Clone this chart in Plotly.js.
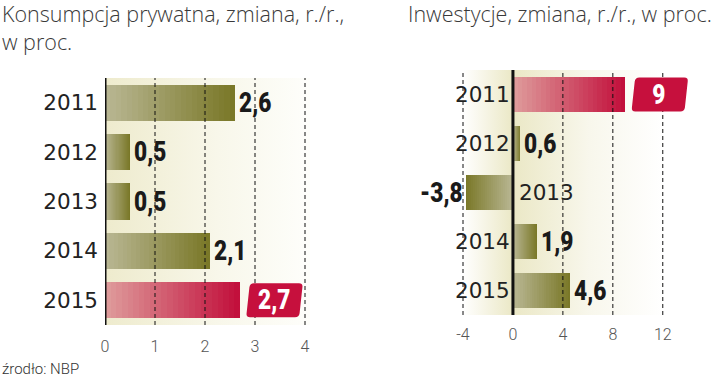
<!DOCTYPE html>
<html>
<head>
<meta charset="utf-8">
<script src="https://cdn.plot.ly/plotly-3.0.1.min.js"></script>
<style>
  html, body { margin: 0; padding: 0; background: #ffffff; }
  #chart { width: 720px; height: 382px; }
</style>
</head>
<body>
<div id="chart"></div>
<script>
// ---- data ----
const years = ['2011', '2012', '2013', '2014', '2015'];
const consumption = [2.6, 0.5, 0.5, 2.1, 2.7];
const investment = [9, 0.6, -3.8, 1.9, 4.6];
const consumptionLabels = ['2,6', '0,5', '0,5', '2,1', '2,7'];
const investmentLabels = ['9', '0,6', '-3,8', '1,9', '4,6'];
const consumptionHighlight = [false, false, false, false, true];
const investmentHighlight = [true, false, false, false, false];
const consumptionTicks = [0, 1, 2, 3, 4];
const investmentTicks = [-4, 0, 4, 8, 12];
const consumptionTitle = 'Konsumpcja prywatna, zmiana, r./r.,<br>w proc.';
const investmentTitle = 'Inwestycje, zmiana, r./r., w proc.';
const sourceText = 'źrodło: NBP';

// ---- style ----
const W = 720, H = 382;
const OLIVE = ['#b8b692', '#7a7828'];
const RED = ['#de9a9a', '#c2103c'];
const BOX_RED = '#c6103d';
const N = 24;
const CONDENSE = 0.84;
const YEAR_FONT = {family: 'DejaVu Sans', size: 21.5, color: '#222222'};
const VAL_FONT = {family: 'Roboto, sans-serif', size: 27, color: '#1a1a1a', weight: 900};
const TICK_FONT = {family: 'Roboto, sans-serif', size: 16, color: '#555555', weight: 300};
const TITLE_FONT = {family: 'Open Sans, sans-serif', size: 21.5, color: '#3a3a3a', weight: 300};

const pos = years.map((y, i) => i);   // row positions of the categories

function hex2rgb(h) { return [1, 3, 5].map(i => parseInt(h.substr(i, 2), 16)); }
function mix(a, b, t) {
  const A = hex2rgb(a), B = hex2rgb(b);
  return 'rgb(' + A.map((v, i) => Math.round(v + (B[i] - v) * t)).join(',') + ')';
}

function gradientBars(values, highlight, xa, ya) {
  const traces = [];
  for (let k = 0; k < N; k++) {
    const t = k / (N - 1);
    traces.push({
      type: 'bar', orientation: 'h',
      y: pos,
      base: values.map(v => v * k / N),
      x: values.map(v => v * (1 - k / N)),
      width: 0.73,
      marker: {color: values.map((v, i) => highlight[i] ? mix(RED[0], RED[1], t) : mix(OLIVE[0], OLIVE[1], t)), line: {width: 0}},
      xaxis: xa, yaxis: ya, hoverinfo: 'skip', showlegend: false
    });
  }
  return traces;
}

const data = [].concat(
  gradientBars(consumption, consumptionHighlight, 'x', 'y'),
  gradientBars(investment, investmentHighlight, 'x2', 'y2')
);

function bgImage(stops, xref, yref) {
  const st = stops.map(s => `<stop offset='${s[0]}' stop-color='${s[1]}'/>`).join('');
  const svg = `<svg xmlns='http://www.w3.org/2000/svg' width='100' height='100' viewBox='0 0 100 100' preserveAspectRatio='none'><defs><linearGradient id='g' x1='0' x2='1' y1='0' y2='0'>${st}</linearGradient></defs><rect width='100' height='100' fill='url(#g)'/></svg>`;
  return {
    source: 'data:image/svg+xml;charset=utf-8,' + encodeURIComponent(svg),
    xref: xref, yref: yref, x: 0, y: 1, sizex: 1, sizey: 1,
    xanchor: 'left', yanchor: 'top', sizing: 'stretch', layer: 'below'
  };
}

const shapes = [];
const annotations = [];
const condensed = [];   // annotation indices drawn in the condensed value style

function gridAndZero(ticks, xa, ya) {
  ticks.forEach(t => {
    shapes.push({
      type: 'line', xref: xa, yref: ya + ' domain', x0: t, x1: t, y0: 0, y1: 1, layer: 'above',
      line: t === 0 ? {color: '#111111', width: 3} : {color: '#111111', width: 1, dash: '4px,3px'}
    });
  });
}
gridAndZero(consumptionTicks, 'x', 'y');
gridAndZero(investmentTicks, 'x2', 'y2');

function boxPath() {
  const h = 17, s = 4, L = 6, R = 59, r = 4;
  return `M ${L + s + r} ${h} L ${R + s - r} ${h} Q ${R + s} ${h} ${R + s - 0.6} ${h - r} ` +
         `L ${R + 0.6} ${-h + r} Q ${R} ${-h} ${R - r} ${-h} L ${L + r} ${-h} ` +
         `Q ${L} ${-h} ${L + 0.6} ${-h + r} L ${L + s - 0.6} ${h - r} Q ${L + s} ${h} ${L + s + r} ${h} Z`;
}

function valueLabels(values, labels, highlight, xa, ya) {
  values.forEach((v, i) => {
    if (highlight[i]) {
      shapes.push({
        type: 'path', xref: xa, yref: ya, xsizemode: 'pixel', ysizemode: 'pixel',
        xanchor: v, yanchor: pos[i], path: boxPath(),
        fillcolor: BOX_RED, line: {width: 0}, layer: 'above'
      });
      condensed.push(annotations.length);
      annotations.push({
        xref: xa, yref: ya, x: v, y: pos[i], text: labels[i], showarrow: false,
        xanchor: 'center', yanchor: 'middle', xshift: 34,
        font: Object.assign({}, VAL_FONT, {color: '#ffffff'})
      });
    } else {
      condensed.push(annotations.length);
      annotations.push({
        xref: xa, yref: ya, x: v, y: pos[i], text: labels[i], showarrow: false,
        xanchor: v >= 0 ? 'left' : 'right', yanchor: 'middle', xshift: v >= 0 ? 2 : -1,
        font: VAL_FONT
      });
    }
  });
}
valueLabels(consumption, consumptionLabels, consumptionHighlight, 'x', 'y');
valueLabels(investment, investmentLabels, investmentHighlight, 'x2', 'y2');

// year labels on the investment chart, on the side opposite to the bar
investment.forEach((v, i) => {
  annotations.push({
    xref: 'x2', yref: 'y2', x: 0, y: pos[i], text: years[i], showarrow: false,
    xanchor: v >= 0 ? 'right' : 'left', yanchor: 'middle', xshift: v >= 0 ? -1 : 4,
    font: YEAR_FONT
  });
});

annotations.push({
  xref: 'paper', yref: 'paper', x: 0, y: 1, xanchor: 'left', yanchor: 'top', yshift: 3,
  text: consumptionTitle, showarrow: false, align: 'left', font: TITLE_FONT
});
annotations.push({
  xref: 'paper', yref: 'paper', x: 406 / W, y: 1, xanchor: 'left', yanchor: 'top', yshift: 3,
  text: investmentTitle, showarrow: false, align: 'left', font: TITLE_FONT
});
annotations.push({
  xref: 'paper', yref: 'paper', x: 0, y: 0, xanchor: 'left', yanchor: 'bottom', yshift: 2,
  text: sourceText, showarrow: false, align: 'left',
  font: {family: 'Roboto, sans-serif', size: 15, color: '#333333', weight: 300}
});

const baseX = {
  showgrid: false, zeroline: false, showline: false, ticks: '', fixedrange: true,
  tickfont: TICK_FONT
};
const baseY = {
  type: 'linear', range: [4.5, -0.5], showgrid: false, zeroline: false, showline: false,
  ticks: '', fixedrange: true, tickvals: pos, ticktext: years
};

const layout = {
  width: W, height: H,
  margin: {l: 0, r: 0, t: 0, b: 0},
  paper_bgcolor: '#ffffff', plot_bgcolor: 'rgba(0,0,0,0)',
  barmode: 'overlay', bargap: 0,
  showlegend: false,
  xaxis: Object.assign({}, baseX, {
    domain: [105 / W, 310 / W], range: [0, 4.1], anchor: 'y', ticklabelstandoff: 10,
    tickvals: consumptionTicks, ticktext: consumptionTicks.map(String)
  }),
  yaxis: Object.assign({}, baseY, {
    domain: [(H - 325) / H, (H - 78) / H], anchor: 'x',
    showticklabels: true, tickfont: YEAR_FONT, ticklabelstandoff: 6
  }),
  xaxis2: Object.assign({}, baseX, {
    domain: [461.75 / W, 694 / W], range: [-4.1, 14.5], anchor: 'y2', ticklabelstandoff: 8,
    tickvals: investmentTicks, ticktext: investmentTicks.map(String)
  }),
  yaxis2: Object.assign({}, baseY, {
    domain: [(H - 315) / H, (H - 70) / H], anchor: 'x2', showticklabels: false
  }),
  images: [
    bgImage([[0, '#eeebcd'], [0.55, '#f8f7ea'], [1, '#fefefb']], 'x domain', 'y domain'),
    bgImage([[0.005, '#ffffff'], [0.22, '#ebe8c6'], [0.55, '#f8f7ec'], [0.87, '#ffffff']], 'x2 domain', 'y2 domain')
  ],
  shapes: shapes,
  annotations: annotations
};

Plotly.newPlot('chart', data, layout, {staticPlot: true, displayModeBar: false}).then(gd => {
  // narrow the value labels horizontally around their anchor edge
  gd.querySelectorAll('g.annotation').forEach(g => {
    const idx = +g.getAttribute('data-index');
    if (condensed.indexOf(idx) < 0) return;
    const txt = g.querySelector('text.annotation-text');
    if (!txt) return;
    const bb = txt.getBBox();
    const xa = annotations[idx].xanchor;
    const ax = xa === 'left' ? bb.x : (xa === 'right' ? bb.x + bb.width : bb.x + bb.width / 2);
    txt.setAttribute('transform', `translate(${ax * (1 - CONDENSE)},0) scale(${CONDENSE},1)`);
  });
});
</script>
</body>
</html>
